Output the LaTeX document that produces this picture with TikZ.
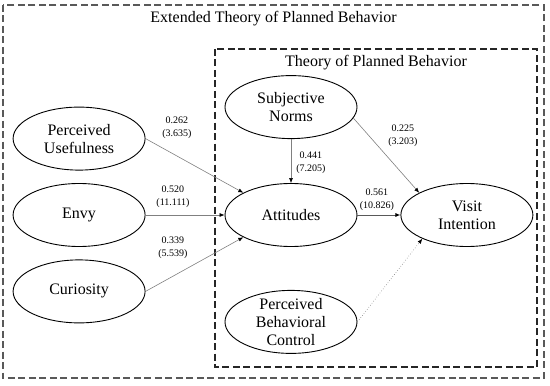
\documentclass[tikz,border=0pt]{standalone}
\usepackage{fontspec}
\setmainfont{Liberation Serif}
\usetikzlibrary{arrows.meta,positioning,shapes.geometric}
\tikzset{
  latent/.style={draw, ellipse, line width=0.9pt, align=center,
                 font=\fontsize{16}{18}\selectfont,
                 minimum width=132pt, minimum height=63pt, inner sep=0pt},
  coef/.style={align=center, font=\fontsize{10}{13}\selectfont, inner sep=1pt},
  ttl/.style={font=\fontsize{16}{18}\selectfont, inner sep=0pt},
  groupbox/.style={draw=black!65, line width=1.1pt, dash pattern=on 7pt off 3.5pt},
  link/.style={-{Latex[length=5pt,width=4pt,color=black]}, draw=black!50, line width=0.6pt},
}

\begin{document}
\begin{tikzpicture}[node distance=12.5pt]
  \useasboundingbox (-291pt,215pt) rectangle (259pt,-171pt);
  % model boundaries
  \draw[groupbox] (-288pt,210pt) rectangle (253pt,-163pt);
  \draw[groupbox, draw=black!85] (-76pt,166pt) rectangle (246pt,-152pt);
  \node[ttl] (etpb) at (-17.5pt,196pt) {Extended Theory of Planned Behavior};
  \node[ttl] (tpb) at (85pt,152pt) {Theory of Planned Behavior};

  % constructs
  \node[latent] (att) at (0,0) {Attitudes};
  \node[latent, left=79pt of att] (envy) {Envy};
  \node[latent, above=of envy] (pu) {Perceived\\Usefulness};
  \node[latent, below=of envy] (cur) {Curiosity};
  \node[latent, right=43pt of att] (vi) {Visit\\Intention};
  \node[latent, above=44pt of att] (sn) {Subjective\\Norms};
  \node[latent, below=43pt of att, inner sep=-1.5pt] (pbc) {Perceived\\Behavioral\\Control};

  % paths
  \draw[link] (pu.east) -- (att.155);
  \draw[link] (envy) -- (att);
  \draw[link] (cur.east) -- (att.205);
  \draw[link] (sn) -- (att);
  \draw[link] (sn.-10) -- (vi.155);
  \draw[link, draw=black!65, line width=0.9pt] (att) -- (vi);
  \draw[link, dotted] (pbc.east) -- (vi.208);

  % coefficients (t-values)
  \node[coef] (c-pu) at (-114pt,87pt) {0.262\\(3.635)};
  \node[coef] (c-envy) at (-118pt,18pt) {0.520\\(11.111)};
  \node[coef] (c-cur) at (-118pt,-33pt) {0.339\\(5.539)};
  \node[coef] (c-sn) at (20pt,52pt) {0.441\\(7.205)};
  \node[coef] (c-snvi) at (112pt,79pt) {0.225\\(3.203)};
  \node[coef] (c-att) at (86pt,15pt) {0.561\\(10.826)};
\end{tikzpicture}
\end{document}
